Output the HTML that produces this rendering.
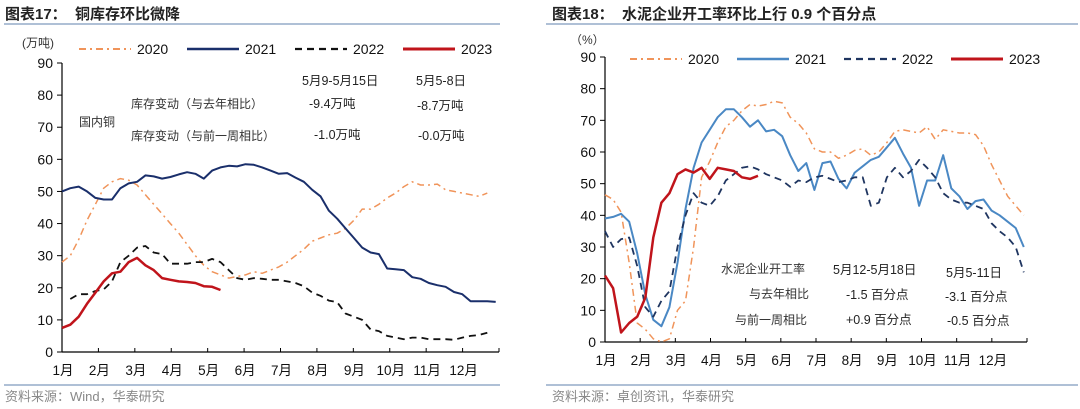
<!DOCTYPE html>
<html><head><meta charset="utf-8"><style>
body{margin:0;background:#fff;}
svg{display:block;font-family:"Liberation Sans","Noto Sans CJK SC",sans-serif;}
</style></head><body>
<svg id="s" width="1080" height="409" viewBox="0 0 1080 409">
<g>
<text x="5" y="19" font-size="15" font-weight="bold" fill="#222">图表17：&#160;&#160;铜库存环比微降</text>
<line x1="4" y1="24" x2="500" y2="24" stroke="#7f9bbd" stroke-width="1.2"/>
<line x1="4" y1="385" x2="500" y2="385" stroke="#7f9bbd" stroke-width="1.2"/>
<text x="5" y="401" font-size="13" fill="#888">资料来源：Wind，华泰研究</text>
<text x="22" y="47" font-size="12" fill="#333">(万吨)</text>
<text x="79" y="126" font-size="12" fill="#333">国内铜</text>
<text x="302" y="85" font-size="12.5" fill="#222">5月9-5月15日</text>
<text x="416" y="85" font-size="12.5" fill="#222">5月5-8日</text>
<text x="131" y="108" font-size="12" fill="#333">库存变动（与去年相比）</text>
<text x="309" y="108" font-size="12.5" fill="#222">-9.4万吨</text>
<text x="417" y="110" font-size="12.5" fill="#222">-8.7万吨</text>
<text x="131" y="140" font-size="12" fill="#333">库存变动（与前一周相比）</text>
<text x="314" y="139" font-size="12.5" fill="#222">-1.0万吨</text>
<text x="418" y="140" font-size="12.5" fill="#222">-0.0万吨</text>
</g>
<g>
<text x="552" y="19" font-size="15" font-weight="bold" fill="#222">图表18：&#160;&#160;水泥企业开工率环比上行 0.9 个百分点</text>
<line x1="546" y1="24" x2="1078" y2="24" stroke="#7f9bbd" stroke-width="1.2"/>
<line x1="546" y1="385" x2="1078" y2="385" stroke="#7f9bbd" stroke-width="1.2"/>
<text x="552" y="401" font-size="13" fill="#888">资料来源：卓创资讯，华泰研究</text>
<text x="570" y="44" font-size="12" fill="#333">（%）</text>
<text x="721" y="273" font-size="12" fill="#333">水泥企业开工率</text>
<text x="833" y="274" font-size="12.5" fill="#222">5月12-5月18日</text>
<text x="946" y="277" font-size="12.5" fill="#222">5月5-11日</text>
<text x="749" y="298" font-size="12" fill="#333">与去年相比</text>
<text x="846" y="299" font-size="12.5" fill="#222">-1.5 百分点</text>
<text x="945" y="301" font-size="12.5" fill="#222">-3.1 百分点</text>
<text x="735" y="324" font-size="12" fill="#333">与前一周相比</text>
<text x="846" y="324" font-size="12.5" fill="#222">+0.9 百分点</text>
<text x="947" y="325" font-size="12.5" fill="#222">-0.5 百分点</text>
</g>
</svg>
<script>
// Left chart data (weekly, 万吨)
const leftYTicks = [0,10,20,30,40,50,60,70,80,90];
const monthLabels = ["1月","2月","3月","4月","5月","6月","7月","8月","9月","10月","11月","12月"];
const leftSeriesNames = ["2020","2021","2022","2023"];
const left2020 = [28,30,35,41,46,51,53,54,53.5,52,49,46,43,40,37,33.5,30,27,25,24,23,23.5,24,25,24.5,25.5,26.5,28,30,32,34.5,35.5,36.5,37,38.5,41,44.5,44.5,46,48,49.5,51.5,53,52,52,52.3,50.5,50,49.5,49,48.5,49.5];
const left2021 = [50,51,51.5,50,48,47.5,47.5,51,52.5,53,55,54.7,54,54.5,55.3,56,55.5,54,56.5,57.5,58,57.8,58.5,58.3,57.5,56.5,55.5,55.7,54.3,53,50.5,48.5,44,41.5,38.5,35.5,32.5,31,30.5,26,25.8,25.5,23.3,22.8,21.5,20.8,20.3,18.7,18,15.8,15.8,15.8,15.6];
const left2022 = [null,16.5,18,18,19,19.5,22,28,30,32.5,33,31,30.5,27.5,27.5,27.5,28,28,29,28,25.5,23,22.5,23,22.8,22.5,22.5,22,21.5,20.5,18.5,17.5,16,15.5,12,11,10,7,6.5,5,4.5,4,4.5,4.5,4,4,4,3.8,4.5,5,5.3,6];
const left2023 = [7.5,8.5,11,15,18.5,22,24.5,25,28,29.3,27,25.5,23,22.5,22,21.8,21.5,20.5,20.3,19.3];
// Right chart data (weekly, %)
const rightYTicks = [0,10,20,30,40,50,60,70,80,90];
const right2020 = [46.5,45,41,25,6,4,1,0,1,10,13,30,52,57,63,68,70,73,75,74.5,75,76,75.5,71,69,66,61,60,60,58,59,60.5,61,59,60,63,66.5,67,66.5,66,68,64,67,66.5,66,66,65.5,62,56,51,46,43,40,42];
const right2021 = [39,39.5,40.5,38,28,15,7,5,11,25,42,55,63,67,71,73.5,73.5,71,68,70,66.5,67,65,59,54,56.5,48,56.5,57,51.5,48.5,53.5,55.5,57.5,58.5,61.5,64.5,59.5,55,43,51,51,59,48.5,46,42,44.5,45,41.5,40,38,36,30,31];
const right2022 = [35,30,32.5,33,24,11,8,13,16,30,40,47,44,43,46,51,53,55,55.5,54.5,53,52,51,49,51,50.5,52,52.5,51.5,50.5,51,52,52,43,44,52,55,52,54,57.5,55,52,47,45,44,44,43,42,37.5,35,33,30,22];
const right2023 = [21,17,3,6,8,14,33,44,47,53,54.5,53.5,55,51.5,55,54.5,54,52,51.5,52.5];

const svg = document.getElementById('s');
const NS = 'http://www.w3.org/2000/svg';
function mk(tag, attrs, parent){const e=document.createElementNS(NS,tag);for(const k in attrs)e.setAttribute(k,attrs[k]);(parent||svg).appendChild(e);return e;}

function drawChart(cfg){
  const g = mk('g',{});
  
  
  const y = v => cfg.y0 + (cfg.y90 - cfg.y0) * v / 90;
  const x = w => cfg.x0 + (cfg.x1 - cfg.x0) * w / cfg.weeks;
  const mx = m => cfg.x0 + (cfg.x1 - cfg.x0) * m / 12;
  mk('line',{x1:cfg.x0,y1:cfg.y90,x2:cfg.x0,y2:cfg.y0,stroke:'#000','stroke-width':1.2},g);
  cfg.yTicks.forEach(t=>{
    mk('line',{x1:cfg.x0-5,y1:y(t),x2:cfg.x0,y2:y(t),stroke:'#000','stroke-width':1},g);
    const tx = mk('text',{x:cfg.x0-9,y:y(t)+5,'font-size':14,'text-anchor':'end',fill:'#111'},g);
    tx.textContent = t;
    
    
  });
  mk('line',{x1:cfg.x0,y1:cfg.y0,x2:cfg.x1,y2:cfg.y0,stroke:'#000','stroke-width':1.2},g);
  for(let m=0;m<=12;m++) mk('line',{x1:mx(m),y1:cfg.y0-4,x2:mx(m),y2:cfg.y0,stroke:'#000','stroke-width':1},g);
  monthLabels.forEach((l,i)=>{
    const tx = mk('text',{x:mx(i)+1,y:cfg.y0+23,'font-size':13.5,'text-anchor':'middle',fill:'#111'},g);
    tx.textContent = l;
    
    
  });
  cfg.series.forEach(s=>{
    let d='';let pen=false;
    s.data.forEach((v,i)=>{
      if(v===null||i>cfg.weeks){pen=false;return;}
      d += (pen?'L':'M') + x(i).toFixed(1) + ',' + y(v).toFixed(1);
      pen=true;
    });
    const p = mk('path',{d:d,fill:'none',stroke:s.color,'stroke-width':s.w,'stroke-dasharray':s.dash||'none','stroke-linejoin':'round'},g);
    
    
  });
  cfg.series.forEach((s,i)=>{
    const lx = cfg.legX + i*cfg.legStep;
    const lg = mk('g',{},g);
    
    
    mk('line',{x1:lx,y1:cfg.legY,x2:lx+52,y2:cfg.legY,stroke:s.color,'stroke-width':s.w+0.5,'stroke-dasharray':s.dash||'none'},lg);
    const t = mk('text',{x:lx+58,y:cfg.legY+5,'font-size':14,fill:'#111'},lg);
    t.textContent = s.label;
  });
}

drawChart({name:'left-chart',x0:62,x1:499,y0:352,y90:63,weeks:52.4,yTicks:leftYTicks,legX:79,legStep:108,legY:49,
  series:[
    {label:leftSeriesNames[0],data:left2020,color:'#f0945a',w:1.5,dash:'7,4,2,4'},
    {label:leftSeriesNames[1],data:left2021,color:'#1a2f6b',w:2},
    {label:leftSeriesNames[2],data:left2022,color:'#111',w:1.8,dash:'7,5'},
    {label:leftSeriesNames[3],data:left2023,color:'#c0141b',w:2.5}
  ]});
drawChart({name:'right-chart',x0:605,x1:1027,y0:342,y90:57,weeks:52.4,yTicks:rightYTicks,legX:630,legStep:107,legY:59,
  series:[
    {label:'2020',data:right2020,color:'#f0945a',w:1.5,dash:'7,4,2,4'},
    {label:'2021',data:right2021,color:'#4a88c4',w:2},
    {label:'2022',data:right2022,color:'#1f3560',w:1.8,dash:'7,5'},
    {label:'2023',data:right2023,color:'#c0141b',w:2.5}
  ]});
</script>
</body></html>
